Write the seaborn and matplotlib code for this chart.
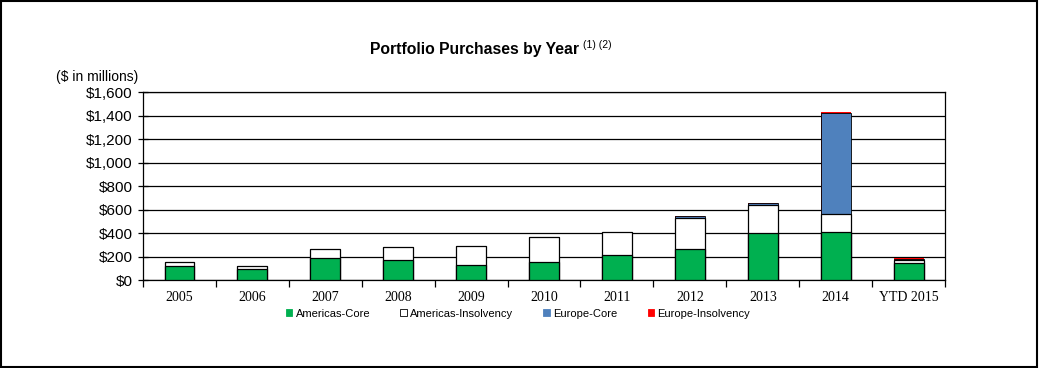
import seaborn as sns
import matplotlib.pyplot as plt
import matplotlib.patches as mpatches
from matplotlib.ticker import FuncFormatter
import numpy as np
import pandas as pd

# Data ($ in millions)
years = ["2005", "2006", "2007", "2008", "2009", "2010", "2011",
         "2012", "2013", "2014", "YTD 2015"]
americas_core = [119, 96, 187, 170, 128, 153, 213, 264, 400, 408, 147]
americas_insolvency = [34, 23, 77, 111, 161, 213, 195, 264, 238, 154, 20]
europe_core = [0, 0, 0, 0, 0, 0, 0, 17, 17, 859, 8]
europe_insolvency = [0, 0, 0, 0, 0, 0, 0, 0, 0, 11, 10]

series_names = ["Americas-Core", "Americas-Insolvency", "Europe-Core", "Europe-Insolvency"]
colors = ["#00B050", "#FFFFFF", "#4F81BD", "#FF0000"]
edges = ["black", "black", "black", "none"]
edge_w = [0.9, 0.9, 0.6, 0]

sns.set_style("white")
plt.rcParams['font.family'] = ['Liberation Sans', 'DejaVu Sans']
plt.rcParams.update({"text.color": "black", "xtick.color": "black",
                     "ytick.color": "black", "axes.labelcolor": "black"})

fig = plt.figure(figsize=(10.4, 3.68), dpi=100)
ax = fig.add_axes([0.1375, 0.2391, 0.7712, 0.5109])

df = pd.DataFrame({"year": years,
                   "Americas-Core": americas_core,
                   "Americas-Insolvency": americas_insolvency,
                   "Europe-Core": europe_core,
                   "Europe-Insolvency": europe_insolvency})
cum = df[series_names].cumsum(axis=1)

# stacked bars via cumulative layers, drawn from top segment down
for name, col, ec, lw in reversed(list(zip(series_names, colors, edges, edge_w))):
    sns.barplot(x=df["year"], y=cum[name], color=col, saturation=1,
                width=0.41, edgecolor=ec, linewidth=lw, ax=ax, zorder=3)

ax.set_ylim(0, 1600)
ax.set_xlim(-0.5, len(years) - 0.5)
ax.set_yticks(np.arange(0, 1601, 200))
ax.yaxis.set_major_formatter(FuncFormatter(lambda v, p: f"${v:,.0f}"))
ax.yaxis.grid(True, color="black", linewidth=0.9, zorder=0)
ax.set_axisbelow(True)
for s in ax.spines.values():
    s.set_color("black")
    s.set_linewidth(0.9)

ax.set_xlabel("")
ax.set_ylabel("")
ax.tick_params(axis="y", direction="inout", length=7, width=0.9, color="black",
               labelsize=11, pad=4, left=True)
ax.tick_params(axis="x", which="major", length=0, pad=8)
ax.set_xticks(np.arange(-0.5, len(years), 1), minor=True)
ax.tick_params(axis="x", which="minor", direction="out", length=5, width=0.9,
               color="black", bottom=True)
for lbl in ax.get_xticklabels():
    lbl.set_fontfamily("Liberation Serif")
    lbl.set_fontsize(10)

fig.text(0.356, 0.866, "Portfolio Purchases by Year", ha="left", va="center",
         fontsize=11.3, fontweight="bold")
fig.text(0.561, 0.878, "(1) (2)", ha="left", va="center", fontsize=7.5)
fig.text(0.133, 0.79, "($ in millions)", ha="right", va="center", fontsize=10)

handles = [mpatches.Patch(facecolor=c, edgecolor="black" if c == "#FFFFFF" else c,
                          linewidth=0.6, label=n) for n, c in zip(series_names, colors)]
fig.legend(handles=handles, loc="center", bbox_to_anchor=(0.498, 0.148), ncol=4,
           frameon=False, fontsize=8, handlelength=0.6, handleheight=0.6,
           handletextpad=0.3, columnspacing=2.7)

fig.patches.append(mpatches.Rectangle((0.001, 0.004), 0.996, 0.992, transform=fig.transFigure,
                                      fill=False, edgecolor="black", linewidth=1.5))

fig.savefig("out.png", dpi=100, facecolor="white")
